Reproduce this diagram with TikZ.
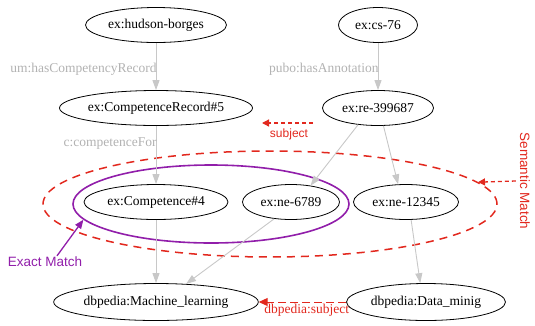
\documentclass[tikz,border=0pt]{standalone}
\usepackage{fontspec}
\setmainfont{Liberation Serif}
\setsansfont{Liberation Sans}
\usetikzlibrary{shapes.geometric,arrows.meta}
\definecolor{edgegray}{RGB}{200,200,200}
\definecolor{labgray}{RGB}{178,178,178}
\definecolor{mred}{RGB}{226,40,30}
\definecolor{mpurple}{RGB}{145,30,170}
\begin{document}
\begin{tikzpicture}[x=1pt,y=-1pt,
  nd/.style={ellipse, draw=black, line width=0.8pt, inner sep=0pt, minimum height=35pt, font=\fontsize{13.5}{15}\selectfont},
  gedge/.style={draw=edgegray, line width=0.9pt, -{Triangle[length=10pt,width=7pt]}},
  glab/.style={text=labgray, font=\fontsize{13.5}{15}\selectfont, inner sep=0pt, anchor=east},
  redtxt/.style={text=mred, font=\sffamily\fontsize{13.5}{15}\selectfont, inner sep=0pt},
  reddot/.style={draw=mred, line width=1.3pt, dash pattern=on 4pt off 3pt, -{Triangle[length=7pt,width=7pt]}},
  reddash/.style={draw=mred, line width=1pt, dash pattern=on 8pt off 4pt, -{Triangle[length=9pt,width=8pt]}},
]
\useasboundingbox (0,0) rectangle (535,325);

% nodes
\node[nd, minimum width=141pt] (hb) at (156,25) {ex:hudson-borges};
\node[nd, minimum width=79pt] (cs) at (378,25) {ex:cs-76};
\node[nd, minimum width=192pt] (cr) at (156,108) {ex:CompetenceRecord\#5};
\node[nd, minimum width=111pt] (re) at (378,108) {ex:re-399687};
\node[nd, minimum width=144pt] (c4) at (156,202) {ex:Competence\#4};
\node[nd, minimum width=97pt] (n6) at (291,202) {ex:ne-6789};
\node[nd, minimum width=105pt] (n12) at (406,202) {ex:ne-12345};
\node[nd, minimum width=204pt, minimum height=37pt] (ml) at (156,302) {dbpedia:Machine\_learning};
\node[nd, minimum width=159pt, minimum height=37pt] (dm) at (426,302) {dbpedia:Data\_minig};

% grouping ellipses
\node[ellipse, draw=mpurple, line width=1.6pt, minimum width=276pt, minimum height=78pt, inner sep=0pt] (em) at (211,204) {};
\node[ellipse, draw=mred, line width=1.5pt, dash pattern=on 8pt off 6pt, minimum width=454pt, minimum height=106pt, inner sep=0pt] (sem) at (270,204) {};

% grey edges
\draw[gedge] (hb) -- (cr) node[glab, pos=0.55, xshift=1pt] {um:hasCompetencyRecord};
\draw[gedge] (cs) -- (re) node[glab, pos=0.55, xshift=1pt] {pubo:hasAnnotation};
\draw[gedge] (cr) -- (c4) node[glab, pos=0.3, xshift=1pt] {c:competenceFor};
\draw[gedge] (re.220) -- (n6.40);
\draw[gedge] (re.287) -- (n12.114);
\draw[gedge] (c4) -- (ml);
\draw[gedge] (n6.225) -- (ml.31);
\draw[gedge] (n12.286) -- (dm.107);

% labels and annotation arrows
\node[redtxt, text=mpurple] (exlab) at (45,262) {Exact Match};
\draw[draw=mpurple, line width=1.3pt, -{Triangle[length=9pt,width=7pt]}] ([xshift=12pt,yshift=1pt]exlab.north) -- (em.187);

\node[redtxt, rotate=-90] (smlab) at (525,181) {Semantic Match};
\draw[reddot] ([xshift=-4pt]smlab.south) -- (sem.6.5);

\coordinate (subjS) at (313,123);
\coordinate (subjE) at (262,123);
\draw[reddot] (subjS) -- (subjE);
\node[redtxt, font=\sffamily\fontsize{12}{14}\selectfont] (subjlab) at (289,134) {subject};

\draw[reddash] (dm) -- (ml) node[pos=0.45, below, yshift=-1pt, inner sep=1pt, text=mred, font=\fontsize{13.5}{15}\selectfont] {dbpedia:subject};
\end{tikzpicture}
\end{document}
